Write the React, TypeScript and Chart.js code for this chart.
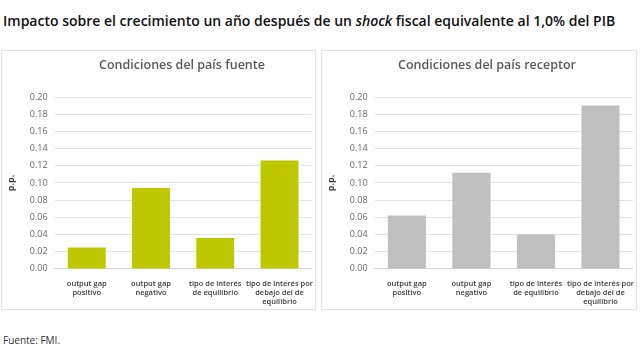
import React, { useEffect, useRef } from "react";
import { Chart, registerables } from "chart.js";

Chart.register(...registerables);

const categories: string[][] = [
  ["output gap", "positivo"],
  ["output gap", "negativo"],
  ["tipo de interés", "de equilibrio"],
  ["tipo de interés por", "debajo del de", "equilibrio"],
];
const fuenteValues = [0.025, 0.094, 0.036, 0.126];
const receptorValues = [0.062, 0.112, 0.04, 0.19];
const yTicks = [0, 0.02, 0.04, 0.06, 0.08, 0.1, 0.12, 0.14, 0.16, 0.18, 0.2];

const FONT = "'Open Sans', sans-serif";

function Panel(props: {
  title: string;
  values: number[];
  color: string;
  left: number;
  width: number;
  titleCenter: number;
}) {
  const ref = useRef<HTMLCanvasElement>(null);
  useEffect(() => {
    if (!ref.current) return;
    const chart = new Chart(ref.current, {
      type: "bar",
      data: {
        labels: categories,
        datasets: [
          {
            data: props.values,
            backgroundColor: props.color,
            categoryPercentage: 0.59,
            barPercentage: 1,
          },
        ],
      },
      options: {
        animation: false,
        responsive: false,
        maintainAspectRatio: false,
        layout: { padding: { top: 46, right: 0, left: 4, bottom: 0 } },
        plugins: { legend: { display: false }, tooltip: { enabled: false } },
        scales: {
          x: {
            grid: { display: false },
            border: { display: true, color: "#d9d9d9" },
            ticks: {
              color: "#3a3a3a",
              font: { family: FONT, size: 7.5, lineHeight: 1.25, weight: 600 },
              maxRotation: 0,
              autoSkip: false,
              padding: 2,
            },
          },
          y: {
            min: 0,
            max: 0.2,
            afterBuildTicks: (axis: any) => {
              axis.ticks = yTicks.map((v) => ({ value: v }));
            },
            grid: { color: "#e3e3e3", drawTicks: false },
            border: { display: false },
            ticks: {
              color: "#666666",
              font: { family: FONT, size: 9 },
              padding: 7,
              callback: (v: any) => Number(v).toFixed(2),
            },
            title: {
              display: true,
              text: "p.p.",
              color: "#404040",
              font: { family: FONT, size: 9, weight: "bold" },
              padding: { top: 0, bottom: 6 },
            },
          },
        },
      },
    });
    return () => chart.destroy();
  }, []);
  return (
    <div
      style={{
        position: "absolute",
        left: props.left,
        top: 50,
        width: props.width,
        height: 260,
        border: "1px solid #e3e3e3",
        boxSizing: "border-box",
        background: "#fff",
      }}
    >
      <div
        style={{
          position: "absolute",
          left: props.titleCenter - 150,
          width: 300,
          top: 5,
          textAlign: "center",
          fontFamily: FONT,
          fontSize: 12.5,
          fontWeight: 600,
          color: "#595959",
        }}
      >
        {props.title}
      </div>
      <canvas ref={ref} width={props.width - 2} height={258} style={{ display: "block" }} />
    </div>
  );
}

export default function App() {
  return (
    <div style={{ position: "fixed", left: 0, top: 0, width: 640, height: 352, background: "#fff", overflow: "hidden" }}>
      <div
        style={{
          position: "absolute",
          left: 3,
          top: 11,
          fontFamily: FONT,
          fontSize: 14,
          fontWeight: 600,
          color: "#111",
          whiteSpace: "nowrap",
        }}
      >
        Impacto sobre el crecimiento un año después de un <i>shock</i> fiscal equivalente al 1,0% del PIB
      </div>
      <Panel
        title="Condiciones del país fuente"
        values={fuenteValues}
        color="#bec800"
        left={1}
        width={315}
        titleCenter={180}
      />
      <Panel
        title="Condiciones del país receptor"
        values={receptorValues}
        color="#bfbfbf"
        left={321}
        width={316}
        titleCenter={165}
      />
      <div
        style={{
          position: "absolute",
          left: 3,
          top: 333,
          fontFamily: FONT,
          fontSize: 10,
          color: "#333",
        }}
      >
        Fuente: FMI.
      </div>
    </div>
  );
}
